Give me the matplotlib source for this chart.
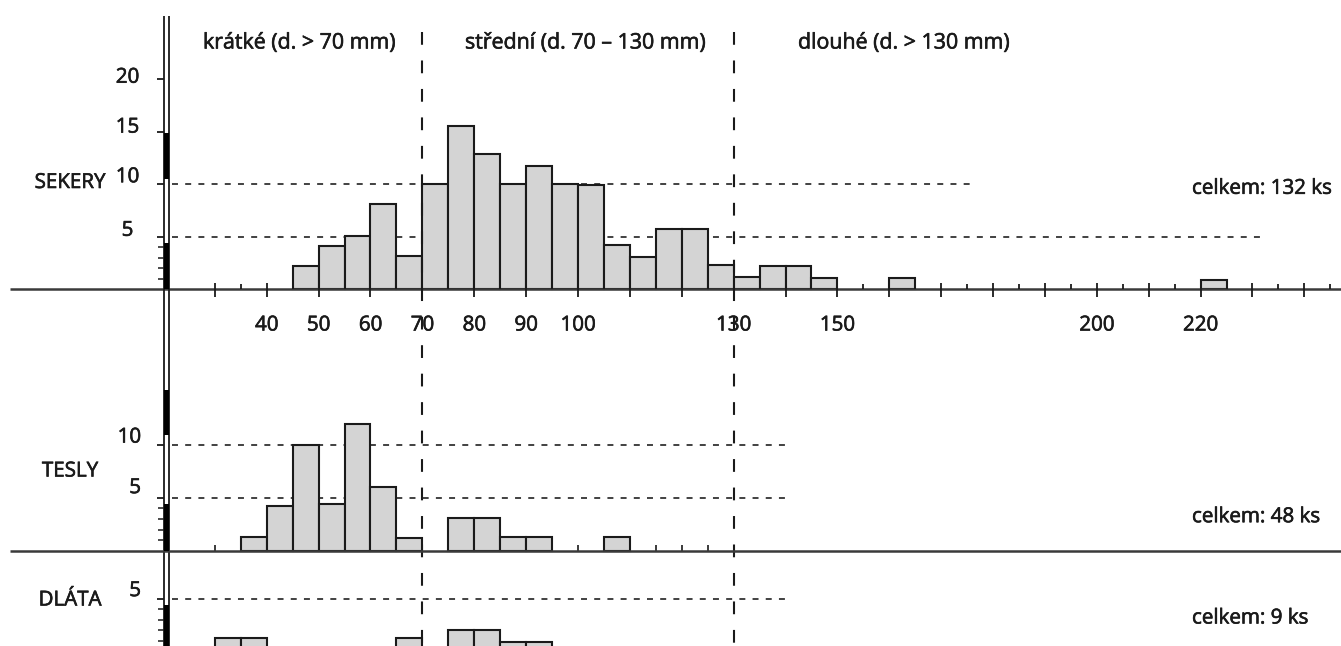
import matplotlib
matplotlib.use('Agg')
import matplotlib.pyplot as plt
from matplotlib.patches import Rectangle
import matplotlib.patheffects as pe

plt.rcParams['font.family'] = ['Open Sans', 'DejaVu Sans']
plt.rcParams['lines.scale_dashes'] = False

# ---------------- data ----------------
BIN = 5  # mm class width
sekery_starts = [45, 50, 55, 60, 65, 70, 75, 80, 85, 90, 95, 100, 105, 110,
                 115, 120, 125, 130, 135, 140, 145, 160, 220]
sekery_counts = [2.2, 4.1, 5.1, 8.1, 3.2, 10, 15.6, 12.9, 10, 11.7, 10, 9.9,
                 4.2, 3.1, 5.7, 5.7, 2.3, 1.2, 2.2, 2.2, 1.1, 1.1, 0.9]
tesly_starts = [35, 40, 45, 50, 55, 60, 65, 75, 80, 85, 90, 105]
tesly_counts = [1.3, 4.2, 10, 4.45, 12, 6, 1.2, 3.1, 3.1, 1.3, 1.3, 1.3]
dlata_starts = [30, 35, 65, 75, 80, 85, 90]
dlata_counts = [1.3, 1.3, 1.3, 2, 2, 0.9, 0.9]

panel_names = ['SEKERY', 'TESLY', 'DLÁTA']
totals = ['celkem: 132 ks', 'celkem: 48 ks', 'celkem: 9 ks']
sekery_yticks = [5, 10, 15, 20]
tesly_yticks = [5, 10]
dlata_yticks = [5]
x_tick_labels = [40, 50, 60, 70, 80, 90, 100, 130, 150, 200, 220]
header_texts = ['krátké (d. > 70 mm)', 'střední (d. 70 – 130 mm)',
                'dlouhé (d. > 130 mm)']
class_bounds = [70, 130]

# ---------------- layout ----------------
W, H, DPI = 1341, 646, 100
X0, PXMM = 59.2, 5.188           # pixel of 0 mm, pixels per mm


def px2mm(px):
    return (px - X0) / PXMM


XL = (px2mm(0), px2mm(W))
INK = '#1a1a1a'
FILL = '#d4d4d4'
FS = 14.8
BOLDEN = [pe.withStroke(linewidth=0.45, foreground=INK)]
TXT = dict(fontsize=FS, color=INK, path_effects=BOLDEN)

fig = plt.figure(figsize=(W / DPI, H / DPI), dpi=DPI)
fig.patch.set_facecolor('white')


def make_panel(base, scale):
    ax = fig.add_axes([0, 0, 1, 1])
    ax.set_xlim(*XL)
    ax.set_ylim((base - H) / scale, base / scale)
    ax.axis('off')
    ax.patch.set_alpha(0)
    return ax


panels = [
    dict(base=289.3, s=10.5, starts=sekery_starts, counts=sekery_counts,
         yticks=sekery_yticks, dash_end={10: 972, 5: 1260},
         black=[(0, 4.4), (10.5, 14.9)], name_y=182.5, total_y=188.3,
         ticks=('major', 30, 245), lab_ha='center', lab_x=127.5,
         lab_off=[0.62, 0.72, 0.45, 0.2]),
    dict(base=550.7, s=10.6, starts=tesly_starts, counts=tesly_counts,
         yticks=tesly_yticks, dash_end={10: 790, 5: 790},
         black=[(0, 4.45), (10.9, 15.2)], name_y=471, total_y=516.7,
         ticks=('minor', 30, 125), lab_ha='right', lab_x=141,
         lab_off=[0.95, 0.72]),
    dict(base=651.3, s=10.5, starts=dlata_starts, counts=dlata_counts,
         yticks=dlata_yticks, dash_end={5: 790},
         black=[(0, 4.4)], name_y=600, total_y=618,
         ticks=('minor', 30, 125), lab_ha='right', lab_x=141,
         lab_off=[0.78]),
]

axes = []
yl_left, yl_right = px2mm(164), px2mm(169.3)
for i, p in enumerate(panels):
    ax = make_panel(p['base'], p['s'])
    axes.append(ax)
    s = p['s']
    cy = lambda py, p=p: (p['base'] - py) / p['s']

    # horizontal reference lines (dashed)
    for lvl, xend in p['dash_end'].items():
        ax.plot([px2mm(172), px2mm(xend)], [lvl, lvl], color='#2a2a2a',
                lw=1.25, dashes=(4.3, 5.2), solid_capstyle='butt',
                dash_capstyle='butt', zorder=1)

    # histogram bars
    ax.bar(p['starts'], p['counts'], width=BIN, align='edge', color=FILL,
           edgecolor=INK, linewidth=1.5, zorder=3)

    # baseline
    ax.plot([px2mm(10), XL[1]], [0, 0], color='#3a3a3a', lw=1.8, zorder=4,
            solid_capstyle='butt')

    # x ticks
    kind, t0, t1 = p['ticks']
    if kind == 'major':
        ax.vlines(list(range(t0, t1 + 1, 10)), -7.3 / s, 6 / s, color=INK,
                  lw=1.3, zorder=4)
        ax.vlines(list(range(t0 + 5, t1 + 1, 10)), 0, 5.3 / s, color=INK,
                  lw=1.3, zorder=4)
    else:
        ax.vlines(list(range(t0, t1 + 1, 5)), 0, 5.5 / s, color=INK,
                  lw=1.2, zorder=2)

    # black segments on the double axis
    for lo, hi in p['black']:
        ax.add_patch(Rectangle((yl_left, lo), yl_right - yl_left, hi - lo,
                               facecolor='black', edgecolor='none', zorder=6))
    # y ticks
    ax.hlines(p['yticks'], px2mm(157), yl_left, color=INK, lw=1.3, zorder=6)
    ax.hlines([1, 2, 3, 4], px2mm(158), yl_left, color=INK, lw=1.1, zorder=6)
    for v, off in zip(p['yticks'], p['lab_off']):
        ax.text(px2mm(p['lab_x']), v + off, str(v), ha=p['lab_ha'],
                va='center', **TXT)

    ax.text(px2mm(70), cy(p['name_y']), panel_names[i], ha='center',
            va='center', **TXT)
    ax.text(px2mm(1192), cy(p['total_y']), totals[i], ha='left',
            va='center', **TXT)

# shared elements drawn in the top panel's coordinates
ax = axes[0]
p = panels[0]
cy = lambda py: (p['base'] - py) / p['s']

# double vertical axis line
for xx in (yl_left, yl_right):
    ax.plot([xx, xx], [cy(16), cy(H)], color=INK, lw=1.3, zorder=5,
            solid_capstyle='butt')

# class boundaries (long dashes)
for b in class_bounds:
    ax.plot([b, b], [cy(32), cy(H)], color=INK, lw=1.5, dashes=(9.2, 11.3),
            dash_capstyle='butt', zorder=7)

# x tick labels
for v in x_tick_labels:
    ax.text(v, cy(325), str(v), ha='center', va='center', **TXT)

# header
for txt, xl in zip(header_texts, (203, 465, 798)):
    ax.text(px2mm(xl), cy(43), txt, ha='left', va='center',
            fontsize=15.4, color=INK, path_effects=BOLDEN)

fig.savefig('out.png', dpi=DPI, facecolor='white')
